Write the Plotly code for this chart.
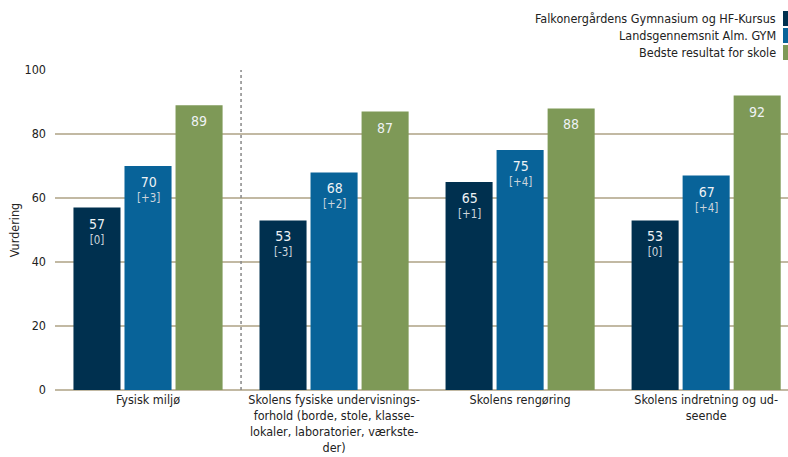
import plotly.graph_objects as go

categories = [
    "Fysisk miljø",
    "Skolens fysiske undervisnings-<br>forhold (borde, stole, klasse-<br>lokaler, laboratorier, værkste-<br>der)",
    "Skolens rengøring",
    "Skolens indretning og ud-<br>seende",
]
series_names = [
    "Falkonergårdens Gymnasium og HF-Kursus",
    "Landsgennemsnit Alm. GYM",
    "Bedste resultat for skole",
]
school = [57, 53, 65, 53]
school_diff = ["[0]", "[-3]", "[+1]", "[0]"]
national = [70, 68, 75, 67]
national_diff = ["[+3]", "[+2]", "[+4]", "[+4]"]
best = [89, 87, 88, 92]
y_ticks = [0, 20, 40, 60, 80, 100]

colors = ["#00304f", "#086399", "#7e9957"]
FONT = "DejaVu Sans Condensed, DejaVu Sans, sans-serif"
BARGAP = 0.177
slot = (1 - BARGAP) / 3

x = list(range(len(categories)))
fig = go.Figure()
series = [
    (series_names[0], school, school_diff, colors[0]),
    (series_names[1], national, national_diff, colors[1]),
    (series_names[2], best, None, colors[2]),
]
for k, (name, vals, diffs, col) in enumerate(series):
    fig.add_trace(go.Bar(
        x=x, y=vals, name=name, marker=dict(color=col, line=dict(width=0)),
        showlegend=False, hoverinfo="skip",
    ))
    for i, v in enumerate(vals):
        txt = "<span style='font-size:14px'>" + str(v) + "</span>"
        if diffs is not None:
            txt += "<br><span style='color:#cdd5dc'>" + diffs[i] + "</span>"
        fig.add_annotation(
            x=x[i] + (k - 1) * slot, y=v, xref="x", yref="y",
            text=txt, showarrow=False, yanchor="top", yshift=-6,
            font=dict(family=FONT, size=11.5, color="#eef2f5"),
        )

# manual legend (text right, swatch at far right)
row_px = [(59, 44), (42, 27), (25, 10)]
for i, name in enumerate(series_names):
    top, bot = row_px[i]
    fig.add_shape(type="rect", xref="paper", yref="paper",
                  xsizemode="pixel", ysizemode="pixel",
                  xanchor=1, yanchor=1, x0=-5, x1=0, y0=bot, y1=top,
                  fillcolor=colors[i], line=dict(width=0))
    fig.add_annotation(text=name, xref="paper", yref="paper", x=1, y=1,
                       xanchor="right", yanchor="middle", xshift=-10,
                       yshift=(top + bot) / 2, showarrow=False,
                       font=dict(family=FONT, size=12.5, color="#222222"))

# dotted separator
fig.add_shape(type="line", xref="x", yref="paper", x0=0.5, x1=0.5, y0=0, y1=1,
              line=dict(color="#888888", width=1.5, dash="dot"), layer="above")

fig.update_layout(
    width=788, height=457,
    margin=dict(l=55, r=0, t=70, b=67),
    plot_bgcolor="white", paper_bgcolor="white",
    barmode="group", bargap=BARGAP, bargroupgap=0.078,
    font=dict(family=FONT, size=12.5, color="#222222"),
    xaxis=dict(tickmode="array", tickvals=x, ticktext=categories,
               range=[-0.5, 3.44], showgrid=False, showline=False,
               ticks="", tickfont=dict(size=12.5, color="#222222")),
    yaxis=dict(range=[0, 100], tickvals=y_ticks, showgrid=True,
               gridcolor="#c2b9a3", gridwidth=2, zeroline=True,
               zerolinecolor="#c2b9a3", zerolinewidth=2, showline=False,
               ticks="", ticklen=0, ticklabelstandoff=8,
               tickfont=dict(size=12.5, color="#222222"),
               title=dict(text="Vurdering", font=dict(size=12.5), standoff=2)),
)

fig.write_html("out.html", config={"displayModeBar": False},
               post_script="document.body.style.margin='0';document.body.style.overflow='hidden';")
